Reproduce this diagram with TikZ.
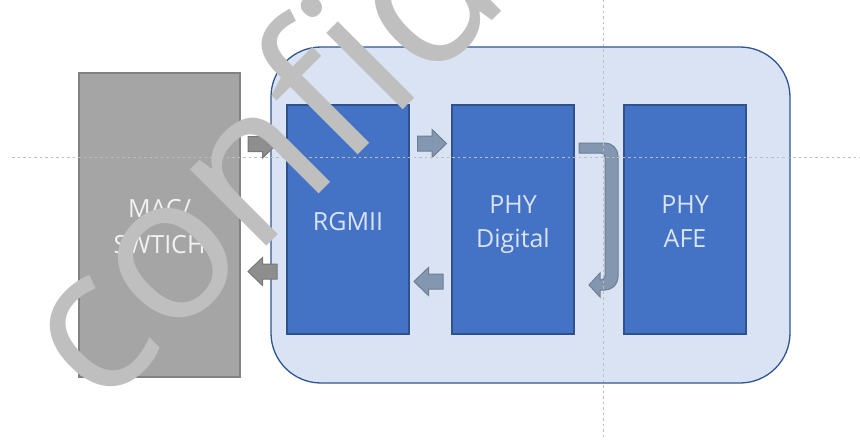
\documentclass[tikz,border=0pt]{standalone}
\usepackage{fontspec}
\setmainfont{Open Sans}
\definecolor{frameFill}{HTML}{DAE3F3}
\definecolor{frameLine}{HTML}{2F5597}
\definecolor{blockFill}{HTML}{4472C4}
\definecolor{blockLine}{HTML}{2F528F}
\definecolor{hostFill}{HTML}{A5A5A5}
\definecolor{hostLine}{HTML}{828282}
\definecolor{labelBlue}{HTML}{DAE3F3}
\definecolor{greyArrowFill}{HTML}{8E8E8E}
\definecolor{greyArrowLine}{HTML}{787878}
\definecolor{slateFill}{HTML}{8497B0}
\definecolor{slateLine}{HTML}{6E7E94}
\definecolor{guide}{HTML}{BDBDBD}
\definecolor{stamp}{HTML}{BFBFBF}
\tikzset{
  container/.style={draw=frameLine, fill=frameFill, line width=1.3pt, rounded corners=50pt, inner sep=0pt},
  block/.style={draw=blockLine, fill=blockFill, line width=1.3pt, inner sep=0pt, minimum width=122pt, minimum height=229pt},
  hostbox/.style={draw=hostLine, fill=hostFill, line width=1.2pt, inner sep=0pt},
  lbl/.style={inner sep=0pt, anchor=base, text=labelBlue, font=\fontsize{25}{30}\selectfont},
  hostlbl/.style={lbl, text=white!95!black},
  greyarrow/.style={fill=greyArrowFill, draw=greyArrowLine, line width=1pt, line join=miter},
  slatearrow/.style={fill=slateFill, draw=slateLine, line width=1pt, line join=miter},
  guideline/.style={draw=guide, line width=1pt, dash pattern=on 2.5pt off 3pt},
  pics/fatarrow/.style={code={
    \path[pic actions] (-14.5,-7.5) -- (0,-7.5) -- (0,-14) -- (14.5,0) -- (0,14) -- (0,7.5) -- (-14.5,7.5) -- cycle;
  }}
}
\begin{document}
\begin{tikzpicture}[x=1pt, y=-1pt]
\useasboundingbox (0,0) rectangle (860,444);
\clip (0,0) rectangle (860,444);

% PHY chip outline and its three blocks
\node[container, minimum width=519pt, minimum height=336pt] (chip) at (530.5,215) {};
\node[hostbox, minimum width=161pt, minimum height=304pt] (mac) at (159.5,225) {};
\node[block] (rgmii) at (348,219.5) {};
\node[block] (digital) at (513,219.5) {};
\node[block] (afe) at (685,219.5) {};

% block labels
\node[hostlbl] (macA) at (mac |- 0,217) {MAC/};
\node[hostlbl] (macB) at (mac |- 0,253) {SWTICH};
\node[lbl] (rgmiiA) at (rgmii |- 0,230) {RGMII};
\node[lbl] (digA) at (digital |- 0,213) {PHY};
\node[lbl] (digB) at (digital |- 0,247) {Digital};
\node[lbl] (afeA) at (afe |- 0,213) {PHY};
\node[lbl] (afeB) at (afe |- 0,247) {AFE};

% transmit path (top) and receive path (bottom)
\pic[greyarrow] at (262.5,144) {fatarrow};
\pic[greyarrow, xscale=-1] at (262.5,271.5) {fatarrow};
\pic[slatearrow] at (432,143.5) {fatarrow};
\pic[slatearrow, xscale=-1] at (428.5,281.5) {fatarrow};

% loop-back from digital to itself around the AFE side
\draw[slatearrow] (579,143) [rounded corners=13pt] -- (618,143) -- (618,290)
  [sharp corners] -- (600,290) -- (600,297) -- (589,285) -- (600,273) -- (600,280)
  [rounded corners=4pt] -- (605,280) -- (605,153)
  [sharp corners] -- (579,153) -- cycle;

% layout guides
\coordinate (gl) at (12,157);
\coordinate (gr) at (860,157);
\coordinate (gt) at (603.5,0);
\coordinate (gb) at (603.5,440);
\draw[guideline] (gl) -- (gr);
\draw[guideline] (gt) -- (gb);

% watermark
\node[inner sep=0pt, anchor=base west, rotate=45, text=stamp,
      font=\fontsize{202}{236}\selectfont] (stamp) at (100,413) {confidential};
\end{tikzpicture}
\end{document}
